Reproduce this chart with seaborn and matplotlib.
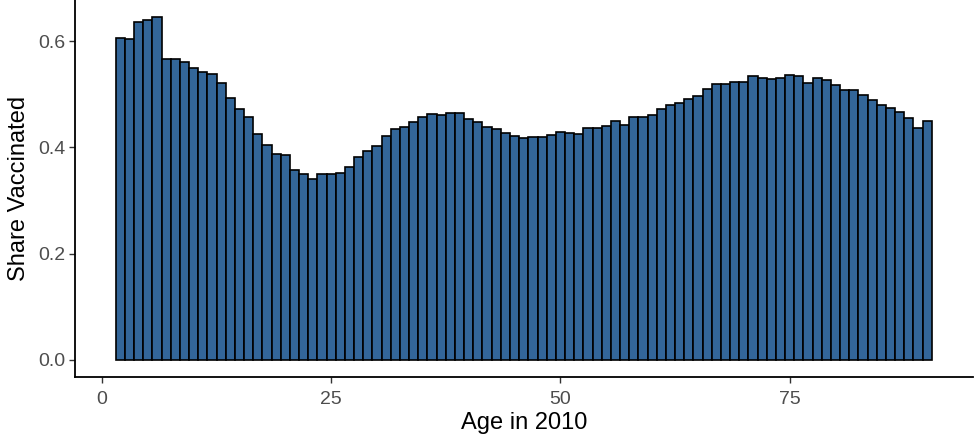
# Share vaccinated by age in 2010
import numpy as np
import pandas as pd
import seaborn as sns
import matplotlib
matplotlib.use("Agg")
import matplotlib.pyplot as plt

ages = list(range(2, 91))
share_vaccinated = [
    0.605, 0.604, 0.636, 0.640, 0.645, 0.567, 0.567, 0.560, 0.550, 0.542,  # 2-11
    0.538, 0.521, 0.492, 0.473, 0.457, 0.426, 0.405, 0.388, 0.385, 0.358,  # 12-21
    0.350, 0.341, 0.349, 0.349, 0.351, 0.363, 0.381, 0.394, 0.403, 0.422,  # 22-31
    0.434, 0.438, 0.447, 0.457, 0.462, 0.461, 0.465, 0.465, 0.454, 0.448,  # 32-41
    0.439, 0.435, 0.427, 0.422, 0.418, 0.420, 0.420, 0.424, 0.428, 0.427,  # 42-51
    0.426, 0.437, 0.437, 0.441, 0.449, 0.443, 0.457, 0.457, 0.460, 0.473,  # 52-61
    0.479, 0.484, 0.491, 0.496, 0.509, 0.520, 0.520, 0.523, 0.523, 0.535,  # 62-71
    0.531, 0.529, 0.531, 0.536, 0.535, 0.521, 0.530, 0.526, 0.518, 0.508,  # 72-81
    0.508, 0.498, 0.489, 0.479, 0.474, 0.466, 0.455, 0.437, 0.450,         # 82-90
]
x_ticks = [0, 25, 50, 75]
y_ticks = [0.0, 0.2, 0.4, 0.6]

df = pd.DataFrame({"age": ages, "share": share_vaccinated})

sns.set_style("white")
plt.rcParams['font.family'] = ['Liberation Sans', 'DejaVu Sans']

W, H = 974, 440
fig = plt.figure(figsize=(W / 100, H / 100), dpi=100)
ax = fig.add_axes([74.9 / W, 1 - 377.1 / H, 897.7 / W, 377.1 / H])

sns.histplot(data=df, x="age", weights="share", discrete=True, shrink=1,
             color="#336699", alpha=1, edgecolor="black", linewidth=1.2, ax=ax)

ax.set_xlim(-2.95, 94.95)
ax.set_ylim(-0.03225, 0.67725)
ax.set_xticks(x_ticks)
ax.set_xticklabels([str(t) for t in x_ticks])
ax.set_yticks(y_ticks)
ax.set_yticklabels([f"{t:.1f}" for t in y_ticks])

for side in ["top", "right"]:
    ax.spines[side].set_visible(False)
for side in ["left", "bottom"]:
    ax.spines[side].set_color("black")
    ax.spines[side].set_linewidth(1.3)

ax.tick_params(axis="both", direction="out", length=4, width=1, color="#333333",
               labelsize=14, labelcolor="#4D4D4D", bottom=True, left=True)
ax.tick_params(axis="x", pad=6)
ax.tick_params(axis="y", pad=3)
ax.set_xlabel("Age in 2010", fontsize=17, color="black", labelpad=3)
ax.set_ylabel("Share Vaccinated", fontsize=17, color="black", labelpad=6)
ax.grid(False)

plt.savefig("out.png", dpi=100)
plt.close()
